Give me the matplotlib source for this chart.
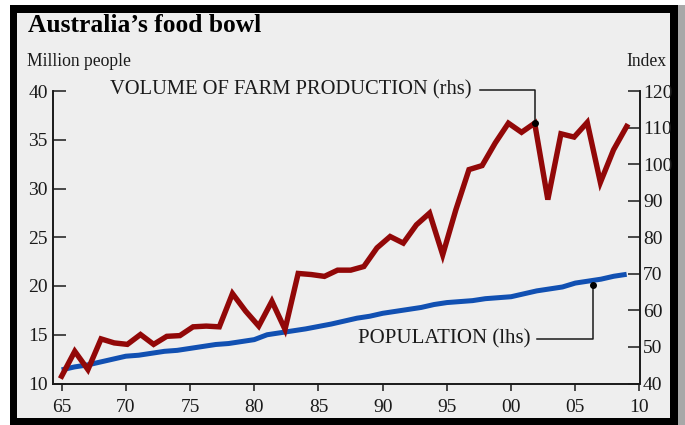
import numpy as np
import matplotlib
matplotlib.use("Agg")
import matplotlib.pyplot as plt
from matplotlib.patches import Rectangle

# Population, million people (lhs), 1965-2009
pop_years = list(range(1965, 2010))
population = [11.4, 11.7, 11.9, 12.2, 12.5, 12.8, 12.9, 13.1, 13.3, 13.4,
              13.6, 13.8, 14.0, 14.1, 14.3, 14.5, 15.0, 15.2, 15.4, 15.6,
              15.85, 16.1, 16.4, 16.7, 16.9, 17.2, 17.4, 17.6, 17.8, 18.1,
              18.3, 18.4, 18.5, 18.7, 18.8, 18.9, 19.2, 19.5, 19.7, 19.9,
              20.3, 20.5, 20.7, 21.0, 21.2]

# Volume of farm production, index (rhs), 44 readings spread 1965-2009
farm_volume = [42.0, 48.8, 43.8, 52.2, 51.1, 50.7, 53.4, 50.7, 52.9, 53.1,
               55.5, 55.7, 55.5, 64.6, 59.8, 55.7, 62.5, 54.8, 70.1, 69.8,
               69.3, 71.0, 71.0, 72.0, 77.1, 80.2, 78.4, 83.4, 86.6, 75.2,
               87.5, 98.5, 99.6, 105.8, 111.2, 108.7, 111.2, 90.3, 108.3, 107.4,
               111.4, 95.0, 103.9, 110.3]

x_ticks = [1965, 1970, 1975, 1980, 1985, 1990, 1995, 2000, 2005, 2010]
x_labels = ['65', '70', '75', '80', '85', '90', '95', '00', '05', '10']
left_ticks = [10, 15, 20, 25, 30, 35, 40]
right_ticks = [40, 50, 60, 70, 80, 90, 100, 110, 120]

RED = '#920808'
BLUE = '#1150b2'
BG = '#eeeeee'
INK = '#1a1a1a'

plt.rcParams['font.family'] = ['Liberation Serif', 'DejaVu Serif']

fig = plt.figure(figsize=(6.85, 4.25), dpi=100)
fig.patch.set_facecolor('white')

# frame: shadow, black border, grey panel
W, H = 685.0, 425.0
fig.add_artist(Rectangle((678 / W, 0), 7 / W, 420 / H, transform=fig.transFigure,
                         facecolor='#a8a8a8', edgecolor='none', zorder=0))
fig.add_artist(Rectangle((10 / W, 0), 668 / W, 420 / H, transform=fig.transFigure,
                         facecolor='black', edgecolor='none', zorder=0))
fig.add_artist(Rectangle((17 / W, 7 / H), 653 / W, 405 / H, transform=fig.transFigure,
                         facecolor=BG, edgecolor='none', zorder=0))

ax = fig.add_axes([53.3 / W, 41.5 / H, 586.2 / W, 292.5 / H])
ax.set_facecolor('none')
ax2 = ax.twinx()

farm_x = np.linspace(pop_years[0], pop_years[-1], len(farm_volume))

ax.plot(pop_years, population, color=BLUE, lw=3.6, solid_capstyle='butt', zorder=3)
ax2.plot(farm_x, farm_volume, color=RED, lw=3.9, solid_joinstyle='miter', zorder=3)

ax.set_xlim(1964.35, 2010)
ax.set_ylim(10, 40)
ax2.set_ylim(40, 120)

ax.set_xticks(x_ticks)
ax.set_xticklabels(x_labels)
ax.set_yticks(left_ticks)
ax2.set_yticks(right_ticks)

for a in (ax, ax2):
    for s in a.spines.values():
        s.set_linewidth(1.2)
        s.set_color(INK)
    a.spines['top'].set_visible(False)

ax.tick_params(axis='y', direction='in', length=9, width=1.1, pad=4,
               labelsize=14, colors=INK)
ax.tick_params(axis='x', direction='out', length=5, width=1.1, pad=6,
               labelsize=14, colors=INK)
ax2.tick_params(axis='y', direction='in', length=9, width=1.1, pad=2.5,
                labelsize=14, colors=INK)

# titles
fig.text(28 / W, 1 - 26 / H, 'Australia\u2019s food bowl', fontsize=18.4,
         fontweight='bold', color='black', va='center', ha='left')
fig.text(27 / W, 1 - 62 / H, 'Million people', fontsize=12.7, color=INK,
         va='center', ha='left')
fig.text(666 / W, 1 - 62 / H, 'Index', fontsize=12.7, color=INK,
         va='center', ha='right')

# farm production label with pointer
fi = 36
fx, fy = farm_x[fi], farm_volume[fi]
ax2.text(1996.9, 120.2, 'VOLUME OF FARM PRODUCTION (rhs)', fontsize=14.8,
         color=INK, ha='right', va='center', clip_on=False)
ax2.plot([1997.6, fx, fx], [120.2, 120.2, fy], color=INK, lw=1.1,
         clip_on=False, zorder=4)
ax2.plot([fx], [fy], 'o', color='black', ms=4, zorder=5)

# population label with pointer
px = 2006.36
py = np.interp(px, pop_years, population) - 0.5
ax.text(2001.5, 14.56, 'POPULATION (lhs)', fontsize=15, color=INK,
        ha='right', va='center')
ax.plot([2002.0, px, px], [14.56, 14.56, py], color=INK, lw=1.1, zorder=4)
ax.plot([px], [py], 'o', color='black', ms=4, zorder=5)

fig.savefig('out.png', dpi=100, facecolor=fig.get_facecolor())
